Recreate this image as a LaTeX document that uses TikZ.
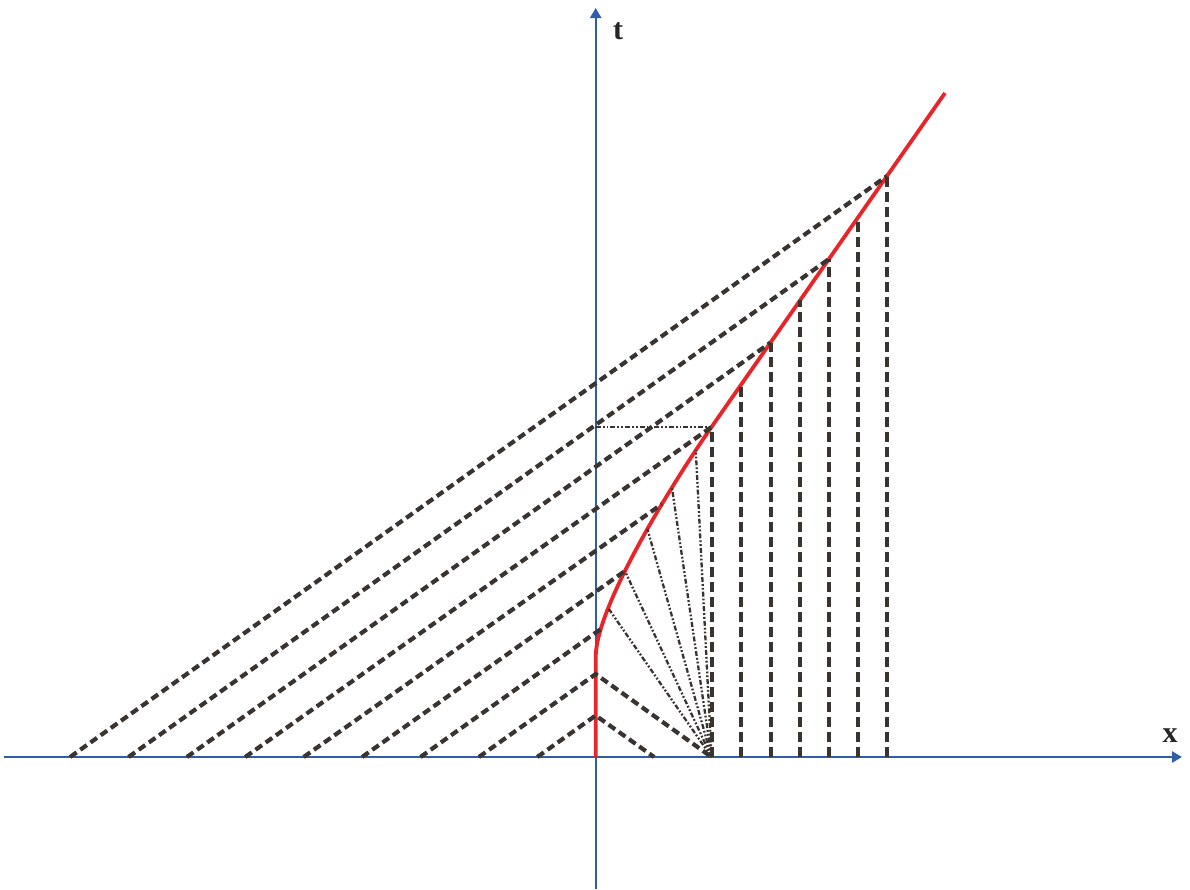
\documentclass[tikz,border=0pt]{standalone}
\usepackage{fontspec}
\setmainfont{Liberation Serif}
\usetikzlibrary{arrows.meta}
\definecolor{axisblue}{RGB}{46,94,170}
\definecolor{curvered}{RGB}{232,38,42}
\definecolor{inkgray}{RGB}{58,52,49}
\begin{document}
\begin{tikzpicture}[x=1pt,y=-1pt,
  axis/.style={draw=axisblue, line width=2.4pt, -{Triangle[length=10pt,width=11pt]}},
  redcurve/.style={draw=curvered, line width=3.8pt},
  charline/.style={draw=inkgray, line width=4.2pt, dash pattern=on 8pt off 4.5pt},
  vertline/.style={draw=inkgray, line width=4pt, dash pattern=on 10pt off 5pt},
  fanline/.style={draw=inkgray, line width=2.3pt, dash pattern=on 5pt off 2pt on 1.8pt off 2pt on 1.8pt off 2pt},
  lab/.style={font=\fontsize{30}{30}\selectfont\bfseries, inner sep=0pt, text=black!85}]
\useasboundingbox (0,0) rectangle (1190,889);
\fill[white] (0,0) rectangle (1190,889);
% axes
\coordinate (O) at (595.7,757);
\coordinate (xs) at (4,757);
\coordinate (xe) at (1182,757);
\coordinate (ts) at (595.7,889);
\coordinate (te) at (595.7,8);
\draw[axis] (xs) -- (xe);
\draw[axis] (ts) -- (te);
\node[lab] (xl) at (1170,736) {x};
\node[lab] (tl) at (618,31) {t};
% red boundary curve
\coordinate (K) at (595.7,657);
\coordinate (B) at (711.5,427);
\coordinate (E) at (945,93);
\draw[redcurve] (O) -- (K) .. controls (595.7,607) and (671.5,484.5) .. (B)
  coordinate[pos=0.155] (c1)
  coordinate[pos=0.25] (f1)
  coordinate[pos=0.4] (c2)
  coordinate[pos=0.56] (f3)
  coordinate[pos=0.655] (c3)
  coordinate[pos=0.72] (f4)
  coordinate[pos=0.88] (f5)
  -- (E);
% points on the straight part of the curve
\coordinate (u1) at (741,384.8);
\coordinate (u2) at (770.5,342.6);
\coordinate (u3) at (800,300.4);
\coordinate (u4) at (829,259.0);
\coordinate (u5) at (858,217.5);
\coordinate (u6) at (887,176.0);
% start points on the x axis
\foreach \k in {1,...,9} {\coordinate (a\k) at ({595.7-58.4*\k},757);}
\coordinate (p1) at (595.7,715.5);
\coordinate (p2) at (595.7,674.1);
\coordinate (b1) at (654.1,757);
\coordinate (b2) at (711.5,757);
% characteristic lines
\draw[charline] (a9) -- (u6);
\draw[charline] (a8) -- (u4);
\draw[charline] (a7) -- (u2);
\draw[charline] (a6) -- (B);
\draw[charline] (a5) -- (c3);
\draw[charline] (a4) -- (c2);
\draw[charline] (a3) -- (c1);
\draw[charline] (a2) -- (p2) -- (b2);
\draw[charline] (a1) -- (p1) -- (b1);
% vertical lines
\coordinate (v1) at (711.5,757);
\coordinate (v2) at (741,757);
\coordinate (v3) at (770.5,757);
\coordinate (v4) at (800,757);
\coordinate (v5) at (829,757);
\coordinate (v6) at (858,757);
\coordinate (v7) at (887,757);
\draw[vertline] (v1) -- (B);
\draw[vertline] (v2) -- (u1);
\draw[vertline] (v3) -- (u2);
\draw[vertline] (v4) -- (u3);
\draw[vertline] (v5) -- (u4);
\draw[vertline] (v6) -- (u5);
\draw[vertline] (v7) -- (u6);
% fan of dash-dot lines
\foreach \f in {f1,c2,f3,f4,f5} {\draw[fanline] (b2) -- (\f);}
\coordinate (h0) at (595.7,427);
\draw[fanline] (h0) -- (B);
\end{tikzpicture}
\end{document}
